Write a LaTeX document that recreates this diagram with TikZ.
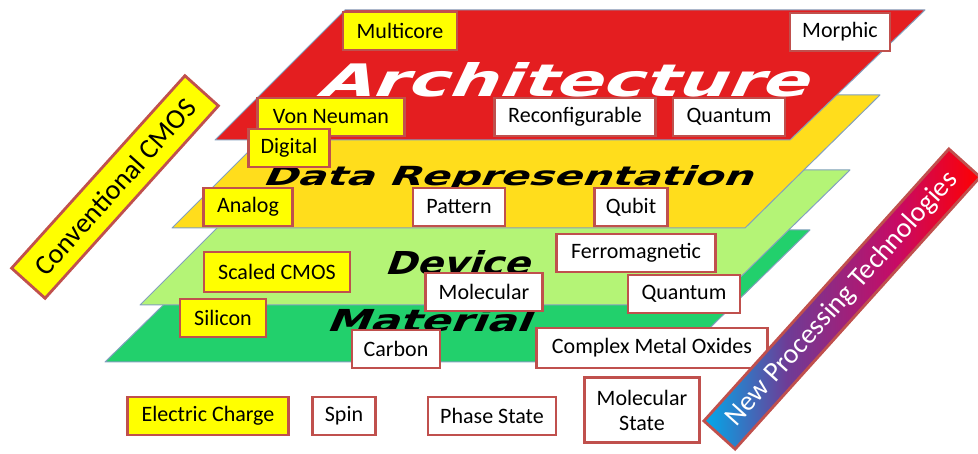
\documentclass[tikz,border=0pt]{standalone}
\usepackage{fontspec}
\setmainfont{Carlito}
\newfontfamily\titlefont[FakeSlant=0.3]{DejaVu Sans Bold}
\usetikzlibrary{shadings}

\definecolor{archred}{RGB}{228,30,32}
\definecolor{datayellow}{RGB}{255,221,28}
\definecolor{devgreen}{RGB}{180,244,118}
\definecolor{matgreen}{RGB}{34,208,108}
\definecolor{layeredge}{RGB}{130,160,190}
\definecolor{tagborder}{RGB}{192,80,77}
\definecolor{oldyellow}{RGB}{255,255,0}
\definecolor{npcyan}{RGB}{0,170,235}
\definecolor{nppurple}{RGB}{110,60,150}
\definecolor{npmagenta}{RGB}{200,10,100}
\definecolor{npred}{RGB}{255,0,0}

% gradient of the "new technologies" banner: cyan -> purple -> crimson -> red
\pgfdeclarehorizontalshading{nptshade}{100bp}{%
  color(0bp)=(npcyan); color(25bp)=(npcyan); color(40bp)=(nppurple);
  color(60bp)=(npmagenta); color(75bp)=(npred); color(100bp)=(npred)}

\begin{document}
\begin{tikzpicture}[x=1pt,y=-1pt,
  layer/.style={draw=layeredge, line width=1pt, line join=round},
  tag/.style={draw=tagborder, line width=2.8pt, minimum height=38pt, inner sep=0pt,
              font=\fontsize{22}{27}\selectfont, text=black},
  old/.style={tag, fill=oldyellow},
  new/.style={tag, fill=white},
  ttl/.style={inner sep=0pt, anchor=base},
  banner/.style={draw=tagborder, line width=2.8pt, inner sep=0pt, rotate=48,
                 font=\fontsize{28}{32}\selectfont}]
\useasboundingbox (0,0) rectangle (978,454);

% stacked layers, bottom to top
\draw[layer, fill=matgreen]   (105,362) -- (675,362) -- (810,230) -- (240,230) -- cycle;
\draw[layer, fill=devgreen]   (140,305) -- (712,305) -- (850,170) -- (275,170) -- cycle;
\draw[layer, fill=datayellow] (172,228) -- (745,228) -- (880,95)  -- (305,95)  -- cycle;
\draw[layer, fill=archred]    (215,140) -- (790,140) -- (925,10)  -- (345,10)  -- cycle;

% layer titles
\node[ttl, text=white] (archT) at (562,97)
  {\resizebox{490pt}{34pt}{\titlefont Architecture}};
\node[ttl, text=black] (dataT) at (507,186)
  {\resizebox{490pt}{20pt}{\titlefont Data Representation}};
\node[ttl, text=black] (devT) at (457,275)
  {\resizebox{145pt}{24pt}{\titlefont Device}};
\node[ttl, text=black] (matT) at (428,332)
  {\resizebox{205pt}{23pt}{\titlefont Material}};

% architecture
\node[old, minimum width=114pt] (multicore) at (400,31) {Multicore};
\node[new, minimum width=100pt] (morphic) at (840,32) {Morphic};
\node[old, minimum width=147pt] (vonneuman) at (331,117) {Von Neuman};
\node[new, minimum width=161pt] (reconf) at (575,117) {Reconfigurable};
\node[new, minimum width=112pt] (quantumA) at (729,117) {Quantum};

% data representation
\node[old, minimum width=81pt] (digital) at (289,148) {Digital};
\node[old, minimum width=89pt] (analog) at (248,207) {Analog};
\node[new, minimum width=92pt] (pattern) at (459,207) {Pattern};
\node[new, minimum width=73pt] (qubit) at (631,207) {Qubit};

% device
\node[new, minimum width=159pt] (ferro) at (636,253) {Ferromagnetic};
\node[old, minimum width=146pt, minimum height=40pt] (scaled) at (277,272) {Scaled CMOS};
\node[new, minimum width=117pt] (molecular) at (484,292) {Molecular};
\node[new, minimum width=112pt] (quantumD) at (684,294) {Quantum};

% material
\node[old, minimum width=86pt] (silicon) at (223,318) {Silicon};
\node[new, minimum width=88pt] (carbon) at (396,349) {Carbon};
\node[new, minimum width=231pt, minimum height=40pt] (cmo) at (652,348) {Complex Metal Oxides};

% state variables
\node[old, minimum width=161pt] (charge) at (208,416) {Electric Charge};
\node[new, minimum width=63pt] (spin) at (344,416) {Spin};
\node[new, minimum width=128pt] (phase) at (492,416) {Phase State};
\node[new, minimum width=115pt, minimum height=65pt, align=center] (molstate) at (642,410) {Molecular\\[-2pt]State};

% side banners
\node[banner, fill=oldyellow, minimum width=259pt, minimum height=45pt] (cmos) at (115,187) {Conventional CMOS};
\node[banner, shading=nptshade, text=white, minimum width=366pt, minimum height=42pt] (npt) at (842,299) {New Processing Technologies};
\end{tikzpicture}
\end{document}
